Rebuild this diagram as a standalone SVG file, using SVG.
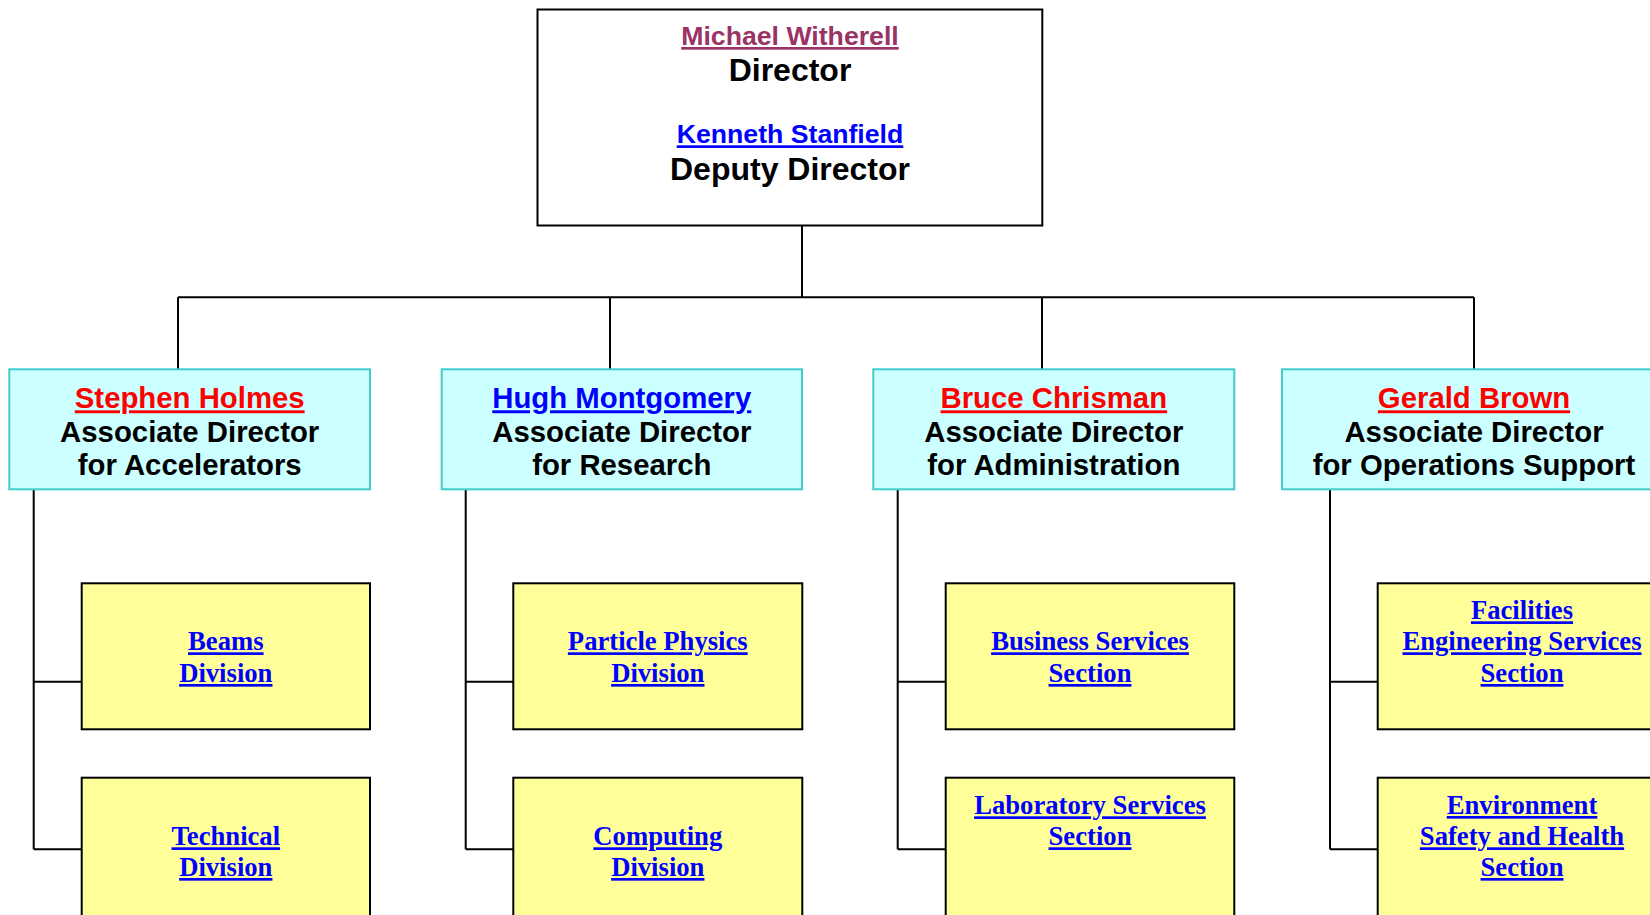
<svg xmlns="http://www.w3.org/2000/svg" width="1650" height="915" viewBox="0 0 1650 915">
<style>
.top{fill:#FFFFFF;stroke:#000;stroke-width:2}
.ad{fill:#CCFFFF;stroke:#40CCCC;stroke-width:2}
.dv{fill:#FFFF99;stroke:#000;stroke-width:2}
.ln{fill:none;stroke:#000;stroke-width:2}
.t{font-family:"Liberation Sans",Arial,sans-serif;font-weight:bold;text-anchor:middle}
.s{font-family:"Liberation Serif","Times New Roman",serif;font-weight:bold;text-anchor:middle;font-size:26.67px;fill:#0000FF;text-decoration:underline}
.nm{font-size:26.67px;text-decoration:underline}
.ti{font-size:32px;fill:#000}
.n2{font-size:29.33px;text-decoration:underline}
.t2{font-size:29.33px;fill:#000}
</style>
<rect width="1650" height="915" fill="#FFFFFF"/>
<g id="connectors">
<path class="ln" d="M802,225.5 V297.3 M178,297.3 H1474 M178,297.3 V369.3 M610,297.3 V369.3 M1042,297.3 V369.3 M1474,297.3 V369.3"/>
<path class="ln" d="M33.7,489.3 V849.3 M33.7,681.7 H81.7 M33.7,849.3 H81.7"/>
<path class="ln" d="M465.7,489.3 V849.3 M465.7,681.7 H513.3 M465.7,849.3 H513.3"/>
<path class="ln" d="M897.7,489.3 V849.3 M897.7,681.7 H945.7 M897.7,849.3 H945.7"/>
<path class="ln" d="M1330,489.3 V849.3 M1330,681.7 H1377.7 M1330,849.3 H1377.7"/>
</g>
<g id="director">
<rect class="top" x="537.5" y="9.5" width="504.8" height="216"/>
<text class="t nm" x="790" y="45" fill="#993366">Michael Witherell</text>
<text class="t ti" x="790" y="81">Director</text>
<text class="t nm" x="790" y="143.3" fill="#0000FF">Kenneth Stanfield</text>
<text class="t ti" x="790" y="180">Deputy Director</text>
</g>
<g id="ad-accelerators">
<rect class="ad" x="9.3" y="369.3" width="360.7" height="120"/>
<text class="t n2" x="189.7" y="408.3" fill="#FF0000">Stephen Holmes</text>
<text class="t t2" x="189.7" y="442">Associate Director</text>
<text class="t t2" x="189.7" y="475.3">for Accelerators</text>
</g>
<g id="ad-research">
<rect class="ad" x="441.7" y="369.3" width="360.3" height="120"/>
<text class="t n2" x="621.8" y="408.3" fill="#0000FF">Hugh Montgomery</text>
<text class="t t2" x="621.8" y="442">Associate Director</text>
<text class="t t2" x="621.8" y="475.3">for Research</text>
</g>
<g id="ad-administration">
<rect class="ad" x="873.3" y="369.3" width="361" height="120"/>
<text class="t n2" x="1053.8" y="408.3" fill="#FF0000">Bruce Chrisman</text>
<text class="t t2" x="1053.8" y="442">Associate Director</text>
<text class="t t2" x="1053.8" y="475.3">for Administration</text>
</g>
<g id="ad-operations">
<rect class="ad" x="1282" y="369.3" width="384" height="120"/>
<text class="t n2" x="1474" y="408.3" fill="#FF0000">Gerald Brown</text>
<text class="t t2" x="1474" y="442">Associate Director</text>
<text class="t t2" x="1474" y="475.3">for Operations Support</text>
</g>
<g id="beams">
<rect class="dv" x="81.7" y="583.3" width="288.3" height="146"/>
<text class="s" x="225.8" y="650.3">Beams</text>
<text class="s" x="225.8" y="682">Division</text>
</g>
<g id="technical">
<rect class="dv" x="81.7" y="777.7" width="288.3" height="160"/>
<text class="s" x="225.8" y="845.3">Technical</text>
<text class="s" x="225.8" y="876">Division</text>
</g>
<g id="particle-physics">
<rect class="dv" x="513.3" y="583.3" width="289" height="146"/>
<text class="s" x="657.8" y="650.3">Particle Physics</text>
<text class="s" x="657.8" y="682">Division</text>
</g>
<g id="computing">
<rect class="dv" x="513.3" y="777.7" width="289" height="160"/>
<text class="s" x="657.8" y="845.3">Computing</text>
<text class="s" x="657.8" y="876">Division</text>
</g>
<g id="business-services">
<rect class="dv" x="945.7" y="583.3" width="288.6" height="146"/>
<text class="s" x="1090" y="650.3">Business Services</text>
<text class="s" x="1090" y="682">Section</text>
</g>
<g id="laboratory-services">
<rect class="dv" x="945.7" y="777.7" width="288.6" height="160"/>
<text class="s" x="1090" y="814.3">Laboratory Services</text>
<text class="s" x="1090" y="845.3">Section</text>
</g>
<g id="facilities">
<rect class="dv" x="1377.7" y="583.3" width="288.3" height="146"/>
<text class="s" x="1522" y="619.3">Facilities</text>
<text class="s" x="1522" y="650.3">Engineering Services</text>
<text class="s" x="1522" y="682">Section</text>
</g>
<g id="esh">
<rect class="dv" x="1377.7" y="777.7" width="288.3" height="160"/>
<text class="s" x="1522" y="814">Environment</text>
<text class="s" x="1522" y="845.3">Safety and Health</text>
<text class="s" x="1522" y="876">Section</text>
</g>
</svg>
